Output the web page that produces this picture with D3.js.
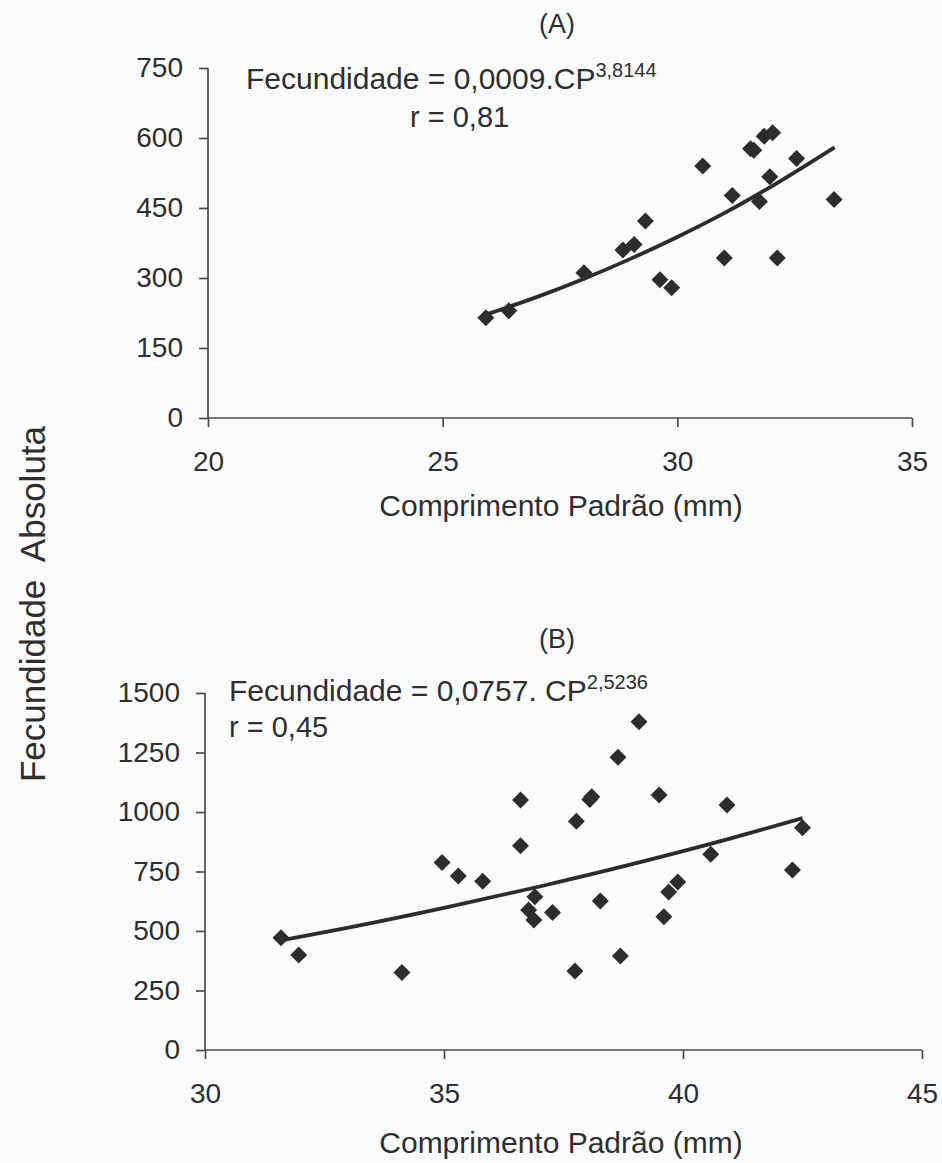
<!DOCTYPE html>
<html lang="pt">
  <head>
    <meta charset="utf-8">
    <script src="https://d3js.org/d3.v7.min.js"></script>
    <style>
      body { margin: 0; background: #fafbfc; }
      text { font-family: "Liberation Sans", Arial, sans-serif; fill: #2e2e2e; }
      .axis path, .axis line { stroke: #4a4a48; stroke-width: 1.7; }
      .axis text { font-size: 28px; fill: #2e2e2e; font-family: "Liberation Sans", Arial, sans-serif; }
    </style>
  </head>
  <body>
    <div id="chart">
      <svg width="942" height="1163"></svg>
    </div>
    <script type="text/javascript">
      // Chart A data (comprimento padrao mm, fecundidade)
      var cpA = [25.92, 26.41, 28.01, 28.84, 29.08, 29.32, 29.63, 29.88, 30.54, 31.00,
                 31.17, 31.56, 31.63, 31.75, 31.85, 32.03, 31.97, 32.13, 32.54, 33.34];
      var fecA = [215, 230, 311, 360, 372, 422, 296, 279, 540, 343,
                  477, 577, 574, 464, 604, 611, 517, 343, 556, 468];
      // fitted curve A
      var fitCpA = [25.9, 27, 28, 29, 30, 31, 32, 33.35];
      var fitFecA = [221, 259, 298, 341, 388, 439, 496, 580];
      var xTicksA = [20, 25, 30, 35];
      var yTicksA = [0, 150, 300, 450, 600, 750];

      // Chart B data
      var cpB = [31.59, 31.96, 34.12, 34.96, 35.30, 35.81, 36.60, 36.60, 36.90, 36.77,
                 36.88, 37.27, 37.74, 37.77, 38.05, 38.09, 38.27, 38.64, 38.69, 39.08,
                 39.50, 39.60, 39.70, 39.89, 40.58, 40.92, 42.29, 42.50];
      var fecB = [472, 399, 326, 788, 731, 709, 1050, 858, 644, 588,
                  546, 578, 332, 961, 1052, 1064, 626, 1230, 395, 1379,
                  1071, 560, 664, 706, 823, 1029, 756, 934];
      var fitCpB = [31.6, 33, 35, 37, 39, 41, 42.5];
      var fitFecB = [461, 514, 597, 687, 784, 889, 974];
      var xTicksB = [30, 35, 40, 45];
      var yTicksB = [0, 250, 500, 750, 1000, 1250, 1500];

      var svg = d3.select("svg");
      svg.append("rect").attr("width", 942).attr("height", 1163).attr("fill", "#fafbfc");

      function panel(opt) {
        var x = d3.scaleLinear().domain(opt.xDomain).range([opt.left, opt.right]);
        var y = d3.scaleLinear().domain(opt.yDomain).range([opt.bottom, opt.top]);

        svg.append("g")
          .attr("class", "axis")
          .attr("transform", `translate(${opt.left},0)`)
          .call(d3.axisLeft(y).tickValues(opt.yTicks).tickFormat(d3.format("d"))
            .tickSize(9).tickPadding(16).tickSizeOuter(0))
          .call(g => g.select(".domain").attr("d", `M0,${opt.top}V${opt.bottom}`));

        svg.append("g")
          .attr("class", "axis")
          .attr("transform", `translate(0,${opt.bottom})`)
          .call(d3.axisBottom(x).tickValues(opt.xTicks).tickFormat(d3.format("d"))
            .tickSize(9).tickPadding(24).tickSizeOuter(0))
          .call(g => g.select(".domain").attr("d", `M${opt.left},0H${opt.right}`));

        var line = d3.line()
          .x(d => x(d[0]))
          .y(d => y(d[1]))
          .curve(d3.curveMonotoneX);
        svg.append("path")
          .datum(opt.fitX.map((v, i) => [v, opt.fitY[i]]))
          .attr("d", line)
          .attr("fill", "none")
          .attr("stroke", "#2a2d2a")
          .attr("stroke-width", 3.8);

        svg.append("g").selectAll("path")
          .data(opt.px.map((v, i) => [v, opt.py[i]]))
          .join("path")
          .attr("transform", d => `translate(${x(d[0])},${y(d[1])})`)
          .attr("d", "M0,-8.5L8.5,0L0,8.5L-8.5,0Z")
          .attr("fill", "#2b2e2c");

        svg.append("text")
          .attr("x", 557).attr("y", opt.titleY)
          .attr("text-anchor", "middle")
          .style("font-size", "27px")
          .text(opt.title);

        svg.append("text")
          .attr("x", 561).attr("y", opt.xLabelY)
          .attr("text-anchor", "middle")
          .style("font-size", "30px")
          .text("Comprimento Padrão (mm)");

        var eq = svg.append("text")
          .attr("x", opt.eqX).attr("y", opt.eqY)
          .style("font-size", "30px");
        eq.append("tspan").text(opt.eq);
        eq.append("tspan").attr("dy", -12).style("font-size", "20px").text(opt.exp);

        svg.append("text")
          .attr("x", opt.rX).attr("y", opt.rY)
          .style("font-size", "29px")
          .text(opt.r);
      }

      panel({
        xDomain: [20, 35], yDomain: [0, 750],
        left: 208, right: 912, top: 68, bottom: 418,
        xTicks: xTicksA, yTicks: yTicksA,
        px: cpA, py: fecA, fitX: fitCpA, fitY: fitFecA,
        title: "(A)", titleY: 33, xLabelY: 516,
        eq: "Fecundidade = 0,0009.CP", exp: "3,8144", eqX: 246, eqY: 89,
        r: "r = 0,81", rX: 410, rY: 127
      });

      panel({
        xDomain: [30, 45], yDomain: [0, 1500],
        left: 205, right: 922, top: 693, bottom: 1050,
        xTicks: xTicksB, yTicks: yTicksB,
        px: cpB, py: fecB, fitX: fitCpB, fitY: fitFecB,
        title: "(B)", titleY: 648, xLabelY: 1153,
        eq: "Fecundidade = 0,0757. CP", exp: "2,5236", eqX: 229, eqY: 701,
        r: "r = 0,45", rX: 229, rY: 737
      });

      svg.append("text")
        .attr("transform", "translate(45,604) rotate(-90)")
        .attr("text-anchor", "middle")
        .style("font-size", "35px")
        .style("white-space", "pre")
        .text("Fecundidade  Absoluta");
    </script>
  </body>
</html>
